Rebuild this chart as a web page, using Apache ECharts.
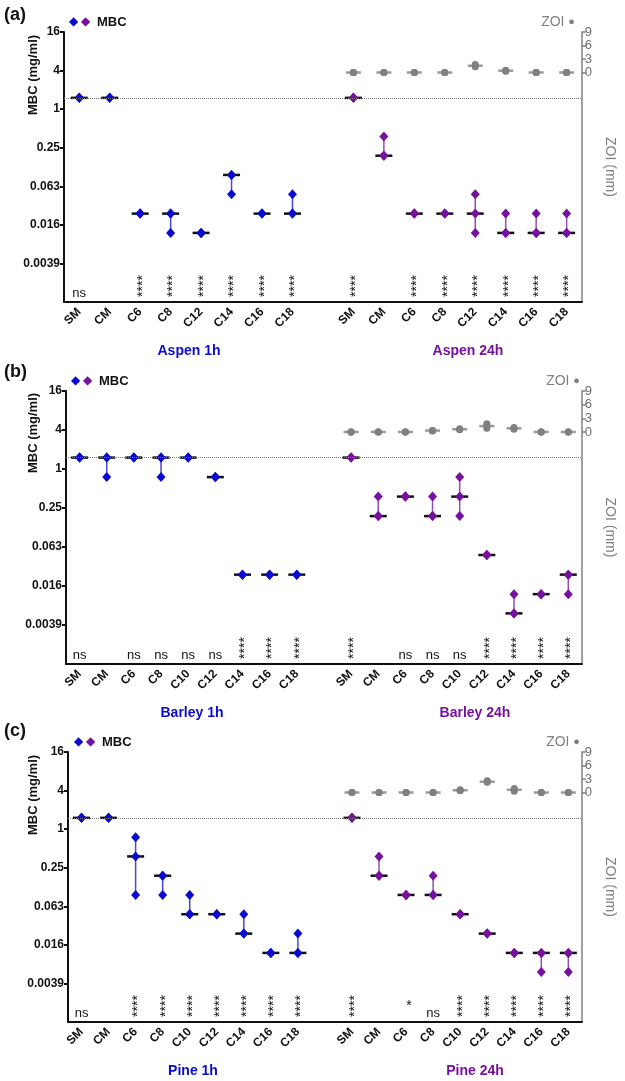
<!DOCTYPE html>
<html>
<head>
<meta charset="utf-8"/>
<title>MBC / ZOI</title>
<script src="https://cdn.jsdelivr.net/npm/echarts@6/dist/echarts.min.js"></script>
<style type="text/css">
    html, body { margin: 0; padding: 0; background: #fff; }
    #main { width: 625px; height: 1081px; }
</style>
</head>
<body>
<div id="main"></div>
<script type="text/javascript">
// axis ticks (MBC axis is log2: 2^-8 ... 2^4)
var mbcTickValues = [1 / 256, 1 / 64, 1 / 16, 0.25, 1, 4, 16];
var mbcTickLabels = ['0.0039', '0.016', '0.063', '0.25', '1', '4', '16'];
var zoiTickValues = [0, 3, 6, 9];
var startMBC = 1.5;   // dotted reference line, mg/ml

var aspenCats = ['SM', 'CM', 'C6', 'C8', 'C12', 'C14', 'C16', 'C18'];
var grainCats = ['SM', 'CM', 'C6', 'C8', 'C10', 'C12', 'C14', 'C16', 'C18'];

// MBC replicates (mg/ml), three per compound
var aspen1h = [[1.5, 1.5, 1.5], [1.5, 1.5, 1.5], [0.0234, 0.0234, 0.0234], [0.0234, 0.0234, 0.0117],
    [0.0117, 0.0117, 0.0117], [0.094, 0.094, 0.047], [0.0234, 0.0234, 0.0234], [0.047, 0.0234, 0.0234]];
var aspen24h = [[1.5, 1.5, 1.5], [0.375, 0.1875, 0.1875], [0.0234, 0.0234, 0.0234], [0.0234, 0.0234, 0.0234],
    [0.047, 0.0234, 0.0117], [0.0234, 0.0117, 0.0117], [0.0234, 0.0117, 0.0117], [0.0234, 0.0117, 0.0117]];
var barley1h = [[1.5, 1.5, 1.5], [1.5, 1.5, 0.75], [1.5, 1.5, 1.5], [1.5, 1.5, 0.75], [1.5, 1.5, 1.5],
    [0.75, 0.75, 0.75], [0.0234, 0.0234, 0.0234], [0.0234, 0.0234, 0.0234], [0.0234, 0.0234, 0.0234]];
var barley24h = [[1.5, 1.5, 1.5], [0.375, 0.1875, 0.1875], [0.375, 0.375, 0.375], [0.375, 0.1875, 0.1875],
    [0.75, 0.375, 0.1875], [0.047, 0.047, 0.047], [0.0117, 0.0059, 0.0059], [0.0117, 0.0117, 0.0117], [0.0234, 0.0234, 0.0117]];
var pine1h = [[1.5, 1.5, 1.5], [1.5, 1.5, 1.5], [0.75, 0.375, 0.094], [0.1875, 0.1875, 0.094], [0.094, 0.047, 0.047],
    [0.047, 0.047, 0.047], [0.047, 0.0234, 0.0234], [0.0117, 0.0117, 0.0117], [0.0234, 0.0117, 0.0117]];
var pine24h = [[1.5, 1.5, 1.5], [0.375, 0.1875, 0.1875], [0.094, 0.094, 0.094], [0.1875, 0.094, 0.094],
    [0.047, 0.047, 0.047], [0.0234, 0.0234, 0.0234], [0.0117, 0.0117, 0.0117], [0.0117, 0.0117, 0.0059], [0.0117, 0.0117, 0.0059]];

// ZOI replicates (mm), 24h only
var aspenZoi = [[0, 0, 0], [0, 0, 0], [0, 0, 0], [0, 0, 0], [1.3, 1.5, 1.8], [0.3, 0.4, 0.5], [0, 0, 0], [0, 0, 0]];
var barleyZoi = [[0, 0, 0], [0, 0, 0], [0, 0, 0], [0.2, 0.3, 0.3], [0.5, 0.6, 0.7], [0.8, 1.3, 1.8], [0.6, 0.8, 1.0], [0, 0, 0], [0, 0, 0]];
var pineZoi = [[0, 0, 0], [0, 0, 0], [0, 0, 0], [0, 0, 0], [0.4, 0.5, 0.6], [2.3, 2.4, 2.6], [0.3, 0.6, 0.9], [0, 0, 0], [0, 0, 0]];

// significance vs control
var aspenSig1h = ['ns', '', '****', '****', '****', '****', '****', '****'];
var aspenSig24h = ['****', '', '****', '****', '****', '****', '****', '****'];
var barleySig1h = ['ns', '', 'ns', 'ns', 'ns', 'ns', '****', '****', '****'];
var barleySig24h = ['****', '', 'ns', 'ns', 'ns', '****', '****', '****', '****'];
var pineSig1h = ['ns', '', '****', '****', '****', '****', '****', '****', '****'];
var pineSig24h = ['****', '', '*', 'ns', '****', '****', '****', '****', '****'];

var BLUE = '#0a0ad0', PURPLE = '#76109e', GREY = '#808080', INK = '#111';
var FONT = 'Liberation Sans';

var panels = [
    {cats: aspenCats, mbc1h: aspen1h, mbc24h: aspen24h, zoi: aspenZoi, sig1h: aspenSig1h, sig24h: aspenSig24h, names: ['Aspen 1h', 'Aspen 24h']},
    {cats: grainCats, mbc1h: barley1h, mbc24h: barley24h, zoi: barleyZoi, sig1h: barleySig1h, sig24h: barleySig24h, names: ['Barley 1h', 'Barley 24h']},
    {cats: grainCats, mbc1h: pine1h, mbc24h: pine24h, zoi: pineZoi, sig1h: pineSig1h, sig24h: pineSig24h, names: ['Pine 1h', 'Pine 24h']}
];
var layout = [
    {tag: '(a)', tagY: 15, grid: {left: 64, top: 32, width: 529, height: 270}, legY: 22, legX: 74, zoiX: 575, nameY: 75, titleY: 351, titleX: [189, 468]},
    {tag: '(b)', tagY: 372, grid: {left: 66, top: 391, width: 536, height: 273}, legY: 381, legX: 76, zoiX: 580, nameY: 433, titleY: 713, titleX: [192, 475]},
    {tag: '(c)', tagY: 731, grid: {left: 68, top: 752, width: 533, height: 270}, legY: 742, legX: 79, zoiX: 580, nameY: 795, titleY: 1071, titleX: [193, 475]}
];

function median(arr) {
    var s = arr.slice().sort(function (a, b) { return a - b; });
    return s[Math.floor(s.length / 2)];
}

function rangeRender(color, lineColor, halfW) {
    return function (params, api) {
        var x = api.value(0);
        var pLo = api.coord([x, api.value(1)]);
        var pHi = api.coord([x, api.value(2)]);
        var pMed = api.coord([x, api.value(3)]);
        return {
            type: 'group',
            children: [
                {type: 'line', shape: {x1: pLo[0], y1: pLo[1], x2: pHi[0], y2: pHi[1]},
                    style: {stroke: color, lineWidth: 1.5, opacity: 0.75}},
                {type: 'line', shape: {x1: pMed[0] - halfW, y1: pMed[1], x2: pMed[0] + halfW, y2: pMed[1]},
                    style: {stroke: lineColor, lineWidth: halfW > 7 ? 2.5 : 1.5}}
            ]
        };
    };
}

function sigRender(labels) {
    return function (params, api) {
        var s = labels[params.dataIndex];
        var p = api.coord([api.value(0), api.value(1)]);
        if (!s) return null;
        var stars = s.indexOf('*') === 0;
        return {
            type: 'text',
            x: stars ? p[0] + 3 : p[0], y: stars ? p[1] - 16 : p[1] - 9,
            rotation: stars && s.length > 1 ? Math.PI / 2 : 0,
            style: {text: s, fill: INK, align: 'center', verticalAlign: 'middle',
                fontFamily: FONT, fontSize: stars ? 14 : 13, fontWeight: 'normal'}
        };
    };
}

var mbcBottom = Math.pow(2, -10);
var option = {
    animation: false,
    backgroundColor: '#fff',
    textStyle: {fontFamily: FONT},
    grid: [], xAxis: [], yAxis: [], series: [], graphic: []
};

panels.forEach(function (p, k) {
    var L = layout[k];
    var n1 = p.cats.length;
    var off = n1 + 1;
    var cats = p.cats.concat([''], p.cats);

    option.grid.push(L.grid);
    option.xAxis.push({
        type: 'category', gridIndex: k, data: cats, boundaryGap: true,
        axisLine: {onZero: false, lineStyle: {color: INK, width: 2}},
        axisTick: {alignWithLabel: true, length: 5, lineStyle: {color: INK, width: 2},
            interval: function (i, v) { return v !== ''; }},
        axisLabel: {rotate: 45, interval: 0, color: INK, fontWeight: 'bold', fontSize: 12, margin: 8}
    });
    option.yAxis.push({
        type: 'log', logBase: 2, gridIndex: k, min: mbcBottom, max: 16,
        axisLine: {show: true, lineStyle: {color: INK, width: 2}},
        axisTick: {show: true, length: 4, customValues: mbcTickValues, lineStyle: {color: INK, width: 2}},
        axisLabel: {color: INK, fontWeight: 'bold', fontSize: 12, margin: 4, customValues: mbcTickValues,
            formatter: function (v) {
                var i = mbcTickValues.findIndex(function (t) { return Math.abs(Math.log2(t / v)) < 0.01; });
                return i >= 0 ? mbcTickLabels[i] : '';
            }},
        splitLine: {show: false}
    });
    option.yAxis.push({
        type: 'value', gridIndex: k, position: 'right', min: -51, max: 9, interval: 3,
        axisLine: {show: true, lineStyle: {color: GREY, width: 1.5}},
        axisTick: {show: true, length: 4, customValues: zoiTickValues, lineStyle: {color: GREY, width: 1.5}},
        axisLabel: {color: '#6e6e6e', fontSize: 13, margin: 3, customValues: zoiTickValues,
            hideOverlap: false, showMinLabel: true, showMaxLabel: true, lineHeight: 13,
            formatter: function (v) { return v >= 0 ? String(v) : ''; }},
        splitLine: {show: false},
        name: 'ZOI (mm)', nameLocation: 'middle', nameRotate: -90, nameGap: k === 0 ? 21 : 14,
        nameTextStyle: {color: GREY, fontSize: 14}
    });

    var groups = [
        {mbc: p.mbc1h, sig: p.sig1h, start: 0, color: BLUE},
        {mbc: p.mbc24h, sig: p.sig24h, start: off, color: PURPLE}
    ];
    groups.forEach(function (g, gi) {
        var ranges = g.mbc.map(function (r, i) {
            return [g.start + i, Math.min.apply(null, r), Math.max.apply(null, r), median(r)];
        });
        var pts = [];
        g.mbc.forEach(function (r, i) { r.forEach(function (v) { pts.push([g.start + i, v]); }); });
        option.series.push({
            type: 'custom', xAxisIndex: k, yAxisIndex: 2 * k, renderItem: rangeRender(g.color, INK, 8.5),
            data: ranges, encode: {x: 0, y: [1, 2, 3]}, clip: false, z: 2
        });
        var sc = {
            type: 'scatter', xAxisIndex: k, yAxisIndex: 2 * k, symbol: 'diamond', symbolSize: [9, 10],
            itemStyle: {color: g.color, opacity: 1}, data: pts, z: 4
        };
        if (gi === 0) {
            sc.markLine = {silent: true, symbol: 'none', label: {show: false},
                lineStyle: {type: 'dotted', color: '#777', width: 1}, data: [{yAxis: startMBC}]};
        }
        option.series.push(sc);
        option.series.push({
            type: 'custom', xAxisIndex: k, yAxisIndex: 2 * k, renderItem: sigRender(g.sig), clip: false, z: 3,
            data: g.sig.map(function (s, i) { return [g.start + i, mbcBottom]; })
        });
    });

    // ZOI (24h)
    var zr = p.zoi.map(function (r, i) {
        return [off + i, Math.min.apply(null, r), Math.max.apply(null, r), median(r)];
    });
    var zp = [];
    p.zoi.forEach(function (r, i) { r.forEach(function (v) { zp.push([off + i, v]); }); });
    option.series.push({
        type: 'custom', xAxisIndex: k, yAxisIndex: 2 * k + 1, renderItem: rangeRender(GREY, '#9a9a9a', 7.5),
        data: zr, encode: {x: 0, y: [1, 2, 3]}, clip: false, z: 2
    });
    option.series.push({
        type: 'scatter', xAxisIndex: k, yAxisIndex: 2 * k + 1, symbol: 'circle', symbolSize: 7,
        itemStyle: {color: GREY, opacity: 1}, data: zp, z: 4
    });

    // labels around the panel
    option.graphic.push(
        {type: 'text', x: 4, y: L.tagY, style: {text: L.tag, fill: INK, fontFamily: FONT, fontSize: 18, fontWeight: 'bold', verticalAlign: 'middle'}},
        {type: 'text', x: L.legX - 5, y: L.legY, style: {
            text: '{b|◆} {p|◆}  {t|MBC}', verticalAlign: 'middle',
            rich: {b: {fill: BLUE, fontSize: 12}, p: {fill: PURPLE, fontSize: 12},
                t: {fill: INK, fontSize: 13, fontWeight: 'bold', fontFamily: FONT}}}},
        {type: 'text', x: L.zoiX, y: L.legY, style: {
            text: 'ZOI {d|●}', fill: GREY, fontFamily: FONT, fontSize: 14, align: 'right', verticalAlign: 'middle',
            rich: {d: {fill: GREY, fontSize: 11}}}},
        {type: 'text', x: 33, y: L.nameY, rotation: Math.PI / 2, style: {
            text: 'MBC (mg/ml)', fill: INK, fontFamily: FONT, fontSize: 13, fontWeight: 'bold', align: 'center', verticalAlign: 'middle'}},
        {type: 'text', x: L.titleX[0], y: L.titleY, style: {
            text: p.names[0], fill: BLUE, fontFamily: FONT, fontSize: 14, fontWeight: 'bold', align: 'center', verticalAlign: 'middle'}},
        {type: 'text', x: L.titleX[1], y: L.titleY, style: {
            text: p.names[1], fill: PURPLE, fontFamily: FONT, fontSize: 14, fontWeight: 'bold', align: 'center', verticalAlign: 'middle'}}
    );
});

var myChart = echarts.init(document.getElementById('main'));
myChart.setOption(option);
</script>
</body>
</html>
